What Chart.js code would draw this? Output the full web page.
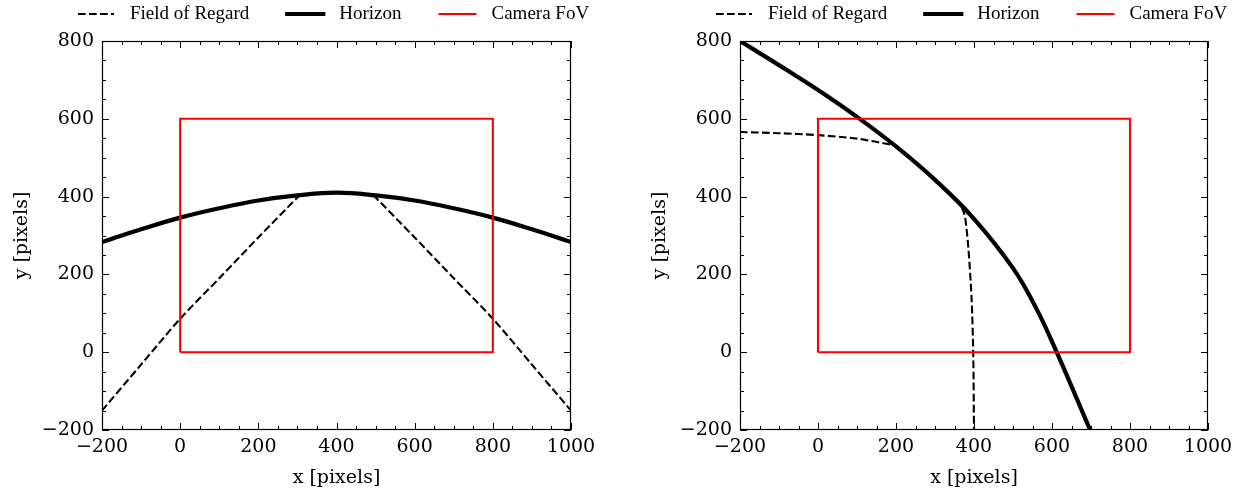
<!DOCTYPE html>
<html>
<head>
<meta charset="utf-8">
<script src="https://cdn.jsdelivr.net/npm/chart.js@4.4.0/dist/chart.umd.min.js"></script>
<style>
  html, body { margin: 0; padding: 0; background: #fff; }
  canvas { position: absolute; top: 0; }
  #left { left: 0; }
  #right { left: 622px; }
</style>
</head>
<body>
<canvas id="left" width="622" height="495"></canvas>
<canvas id="right" width="622" height="495"></canvas>
<script>
// ejes y etiquetas
const xTicks = [-200, 0, 200, 400, 600, 800, 1000];
const yTicks = [-200, 0, 200, 400, 600, 800];
const legendLabels = ['Field of Regard', 'Horizon', 'Camera FoV'];

// rectángulo de la cámara (igual en los dos paneles)
const fovX = [0, 800, 800, 0, 0];
const fovY = [0, 0, 600, 600, 0];

// panel izquierdo
const horizonAX = [-200, -100, 0, 100, 200, 300, 400, 500, 600, 700, 800, 900, 1000];
const horizonAY = [283, 316, 346, 370, 390, 403, 410, 403, 390, 370, 346, 316, 283];
const regardA1X = [-200, -100, 0, 100, 200, 306];
const regardA1Y = [-150, -32, 86, 190, 295, 404];
const regardA2X = [494, 600, 700, 800, 900, 1000];
const regardA2Y = [404, 295, 190, 86, -32, -150];

// panel derecho
const horizonBX = [-200, -100, 0, 100, 200, 300, 400, 500, 560, 612, 700];
const horizonBY = [800, 738, 674, 605, 529, 443, 343, 216, 112, 0, -205];
const regardB1X = [-200, -100, 0, 100, 190];
const regardB1Y = [566, 563, 558, 549, 533];
const regardB2X = [369, 377, 386, 394, 398, 400];
const regardB2Y = [372, 348, 262, 133, 0, -200];

const FONT = "'DejaVu Serif', serif";
const LEGEND_FONT = "'Liberation Serif', serif";
const DASH = [7.7, 3.3];

const pts = (xs, ys) => xs.map((x, i) => ({ x, y: ys[i] }));
const fmt = (v) => (v < 0 ? '\u2212' + Math.abs(v) : String(v));

// marco con ticks hacia dentro (mayores y menores) en los cuatro lados
const frameTicks = {
  id: 'frameTicks',
  afterDatasetsDraw(chart) {
    const { ctx, chartArea: a, scales: { x, y } } = chart;
    ctx.save();
    ctx.strokeStyle = '#000';
    ctx.lineWidth = 1;
    ctx.beginPath();
    for (let v = x.min; v <= x.max; v += 50) {
      const px = Math.round(x.getPixelForValue(v)) + 0.5;
      const len = v % 200 === 0 ? 7 : 4;
      ctx.moveTo(px, a.bottom); ctx.lineTo(px, a.bottom - len);
      ctx.moveTo(px, a.top); ctx.lineTo(px, a.top + len);
    }
    for (let v = y.min; v <= y.max; v += 50) {
      const py = Math.round(y.getPixelForValue(v)) + 0.5;
      const len = v % 200 === 0 ? 7 : 4;
      ctx.moveTo(a.left, py); ctx.lineTo(a.left + len, py);
      ctx.moveTo(a.right, py); ctx.lineTo(a.right - len, py);
    }
    ctx.stroke();
    ctx.lineWidth = 1.2;
    ctx.strokeRect(a.left + 0.5, a.top + 0.5, a.right - a.left - 1, a.bottom - a.top - 1);
    ctx.restore();
  }
};

// leyenda horizontal encima del panel
const topLegend = {
  id: 'topLegend',
  afterDraw(chart) {
    const { ctx, chartArea: a } = chart;
    const styles = [
      { color: '#000', width: 2.1, dash: DASH, cap: 'butt' },
      { color: '#000', width: 4.2, dash: [], cap: 'square' },
      { color: '#ff0000', width: 2.1, dash: [], cap: 'square' }
    ];
    const yMid = 14;
    let xPos = a.left - 24;
    ctx.save();
    ctx.font = '19px ' + LEGEND_FONT;
    ctx.textBaseline = 'middle';
    ctx.fillStyle = '#000';
    legendLabels.forEach((label, i) => {
      const s = styles[i];
      ctx.beginPath();
      ctx.strokeStyle = s.color;
      ctx.lineWidth = s.width;
      ctx.lineCap = s.cap;
      ctx.setLineDash(s.dash);
      ctx.moveTo(xPos, yMid);
      ctx.lineTo(xPos + 36, yMid);
      ctx.stroke();
      ctx.setLineDash([]);
      ctx.fillText(label, xPos + 52, yMid);
      xPos += 52 + ctx.measureText(label).width + 38;
    });
    ctx.restore();
  }
};

const lineSet = (data, color, width, dash, order, tension) => ({
  data,
  borderColor: color,
  borderWidth: width,
  borderDash: dash,
  pointRadius: 0,
  fill: false,
  tension,
  order,
  clip: 0
});

const makePanel = (canvasId, datasets, yWidth, rightPad, yTitlePad) => {
  const ctx = document.getElementById(canvasId).getContext('2d');
  return new Chart(ctx, {
    type: 'line',
    data: { datasets },
    options: {
      responsive: false,
      animation: false,
      devicePixelRatio: 1,
      layout: { padding: { top: 41, right: rightPad, bottom: 0, left: 0 } },
      plugins: { legend: { display: false }, tooltip: { enabled: false } },
      scales: {
        x: {
          type: 'linear',
          min: -200,
          max: 1000,
          afterBuildTicks: (s) => { s.ticks = xTicks.map((v) => ({ value: v })); },
          afterFit: (s) => { s.height = 65; },
          grid: { display: false, drawTicks: false },
          border: { display: false },
          ticks: { color: '#000', font: { family: FONT, size: 19 }, padding: 6, maxRotation: 0, callback: fmt },
          title: { display: true, text: 'x [pixels]', color: '#000', font: { family: FONT, size: 19 }, padding: { top: 0, bottom: 6 } }
        },
        y: {
          type: 'linear',
          min: -200,
          max: 800,
          afterBuildTicks: (s) => { s.ticks = yTicks.map((v) => ({ value: v })); },
          afterFit: (s) => { s.width = yWidth; },
          grid: { display: false, drawTicks: false },
          border: { display: false },
          ticks: { color: '#000', font: { family: FONT, size: 19 }, padding: 8, callback: fmt },
          title: { display: true, text: 'y [pixels]', color: '#000', font: { family: FONT, size: 19 }, padding: { top: yTitlePad, bottom: 0 } }
        }
      }
    },
    plugins: [frameTicks, topLegend]
  });
};

makePanel('left', [
  lineSet(pts(fovX, fovY), '#ff0000', 2.1, [], 0, 0),
  lineSet(pts(horizonAX, horizonAY), '#000', 4.2, [], 1, 0.4),
  lineSet(pts(regardA1X, regardA1Y), '#000', 2.1, DASH, 2, 0.3),
  lineSet(pts(regardA2X, regardA2Y), '#000', 2.1, DASH, 2, 0.3)
], 102, 51, 10.6);

makePanel('right', [
  lineSet(pts(fovX, fovY), '#ff0000', 2.1, [], 0, 0),
  lineSet(pts(horizonBX, horizonBY), '#000', 4.2, [], 1, 0.4),
  lineSet(pts(regardB1X, regardB1Y), '#000', 2.1, DASH, 2, 0.3),
  lineSet(pts(regardB2X, regardB2Y), '#000', 2.1, DASH, 2, 0.3)
], 118, 36, 26.6);
</script>
</body>
</html>
